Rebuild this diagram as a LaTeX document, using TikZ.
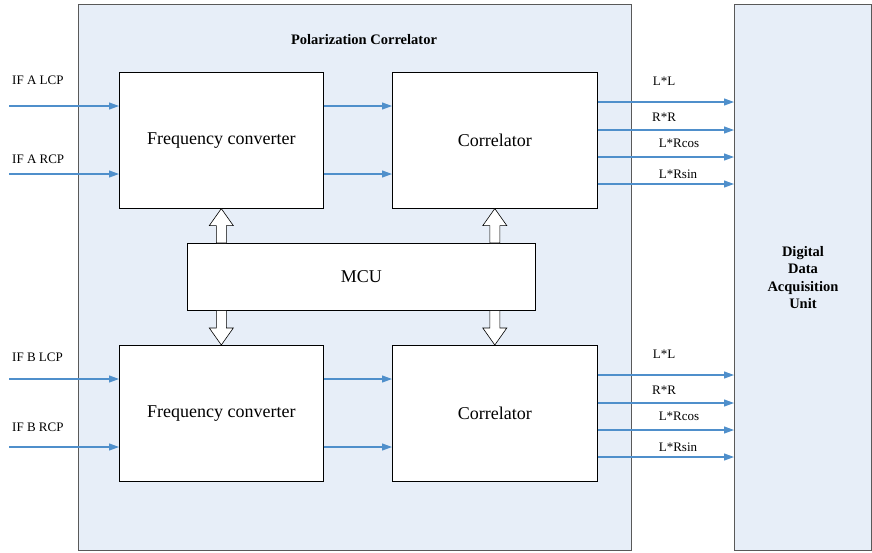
\documentclass[tikz,border=0pt]{standalone}
\usepackage{fontspec}
\setmainfont{Liberation Serif}
\usetikzlibrary{arrows.meta, calc, positioning}
\definecolor{panelblue}{HTML}{E7EEF8}
\definecolor{sigblue}{HTML}{4F8FCB}
\definecolor{edgegray}{HTML}{595959}

\tikzset{
  panel/.style={draw=edgegray, fill=panelblue, line width=0.9pt, anchor=north west, inner sep=0pt},
  blk/.style={draw=black, fill=white, line width=0.6pt, anchor=north west, font=\fontsize{18}{20}\selectfont},
  sig/.style={draw=sigblue, line width=1.1pt, -{Triangle[length=10pt,width=7pt]}},
  lbl/.style={font=\fontsize{13}{15}\selectfont, inner sep=0pt},
  bus/.style={draw=black, fill=white, line width=0.6pt},
}

% hollow bus arrow from #1 to #2
\newcommand{\busarrow}[2]{%
  \coordinate (bn) at ($(#2)!17pt!(#1)$);
  \draw[bus] ($(#1)!5pt!90:(#2)$) -- ($(bn)!5pt!90:(#2)$) -- ($(bn)!12pt!90:(#2)$) -- (#2)
    -- ($(bn)!12pt!-90:(#2)$) -- ($(bn)!5pt!-90:(#2)$) -- ($(#1)!5pt!-90:(#2)$) -- cycle;}

\begin{document}
\begin{tikzpicture}[x=1pt,y=-1pt]
\useasboundingbox (0,0) rectangle (872,552);

% Panels
\node[panel, minimum width=553pt, minimum height=546pt] (pc) at (78,4) {};
\node[font=\bfseries\fontsize{14.5}{16}\selectfont] (pctitle) at (364,40) {Polarization Correlator};
\node[panel, minimum width=137pt, minimum height=546pt, align=center,
      font=\bfseries\fontsize{14.5}{17.5}\selectfont] (daq) at (734,4) {Digital\\Data\\Acquisition\\Unit};

% MCU
\node[blk, minimum width=348pt, minimum height=67pt] (mcu) at (187,243) {MCU};

% Channels A and B
\foreach \ch/\dy/\la/\lb in {A/0/80/159, B/273/357/427}{
  \node[blk, minimum width=204pt, minimum height=136pt] (fc\ch) at (119,72+\dy) {Frequency converter};
  \node[blk, minimum width=205pt, minimum height=136pt] (cor\ch) at (392,72+\dy) {Correlator};
  % inputs
  \coordinate (inL\ch) at (9,106+\dy);
  \coordinate (inR\ch) at (9,174+\dy);
  \node[lbl, anchor=west] (lbL\ch) at (12,\la) {IF \ch\ LCP};
  \node[lbl, anchor=west] (lbR\ch) at (12,\lb) {IF \ch\ RCP};
  \draw[sig] (inL\ch) -- (fc\ch.west |- inL\ch);
  \draw[sig] (inR\ch) -- (fc\ch.west |- inR\ch);
  \draw[sig] (fc\ch.east |- inL\ch) -- (cor\ch.west |- inL\ch);
  \draw[sig] (fc\ch.east |- inR\ch) -- (cor\ch.west |- inR\ch);
  % outputs
  \foreach \i/\y/\t/\lx/\ly in {1/102/L*L/664/81, 2/130/R*R/664/117, 3/157/L*Rcos/679/143, 4/184/L*Rsin/678/174}{
    \draw[sig] (cor\ch.east |- 0,\y+\dy) -- (daq.west |- 0,\y+\dy);
    \node[lbl] (out\ch\i) at (\lx,\ly+\dy) {\t};
  }
}

% Bus arrows
\busarrow{mcu.north -| fcA.south}{fcA.south}
\busarrow{mcu.north -| corA.south}{corA.south}
\busarrow{mcu.south -| fcB.north}{fcB.north}
\busarrow{mcu.south -| corB.north}{corB.north}
\end{tikzpicture}
\end{document}
